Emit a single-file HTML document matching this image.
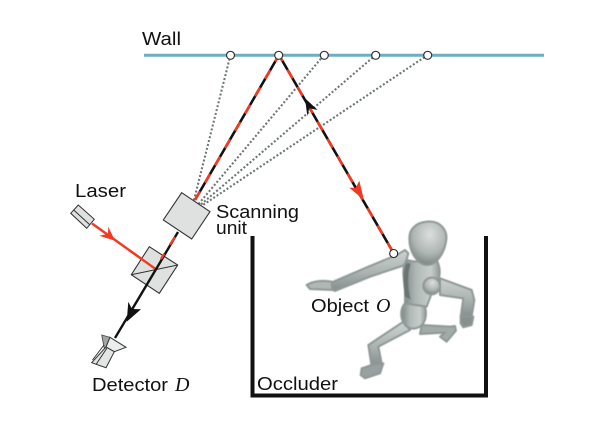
<!DOCTYPE html>
<html><head><meta charset="utf-8"><style>
html,body{margin:0;padding:0;background:#fff}
svg{display:block}
text{font-family:"Liberation Sans",sans-serif;fill:#111;font-size:18.500px}
.i{font-family:"Liberation Serif",serif;font-style:italic;font-size:20px}
</style></head><body>
<svg width="600" height="423" viewBox="0 0 600 423" xmlns="http://www.w3.org/2000/svg">
<defs>
<radialGradient id="h" cx=".55" cy=".3" r=".8"><stop offset="0" stop-color="#dcdfde"/><stop offset=".55" stop-color="#aeb5b3"/><stop offset="1" stop-color="#6a7371"/></radialGradient>
<linearGradient id="t" x1="0" y1="0" x2="1" y2="0"><stop offset="0" stop-color="#7b8583"/><stop offset=".35" stop-color="#b0b8b6"/><stop offset=".75" stop-color="#c8cecc"/><stop offset="1" stop-color="#929b99"/></linearGradient>
<linearGradient id="a" x1="0" y1="0" x2="0" y2="1"><stop offset="0" stop-color="#ced3d2"/><stop offset=".55" stop-color="#abb3b1"/><stop offset="1" stop-color="#858e8c"/></linearGradient>
<filter id="b" x="-5%" y="-5%" width="110%" height="110%"><feGaussianBlur stdDeviation="1.500"/></filter>
</defs>

<!-- wall -->
<line x1="144" y1="55.3" x2="544" y2="55.3" stroke="#6fadc4" stroke-width="3"/>

<!-- dotted -->
<g stroke="#6f7776" stroke-width="2.1" stroke-dasharray="2 2" fill="none">
<line x1="192" y1="208" x2="230.5" y2="55"/>
<line x1="196" y1="207" x2="324" y2="55"/>
<line x1="198" y1="207" x2="375.7" y2="55"/>
<line x1="200" y1="207" x2="427.7" y2="55"/>
</g>

<!-- occluder -->
<path d="M252.500 236V395.500H486V236" fill="none" stroke="#111" stroke-width="4"/>

<!-- laser -->
<polygon points="78.3,205 94.3,219.3 86.7,228.3 70.7,213.3" fill="#dfe1e0" stroke="#333" stroke-width="1"/>
<line x1="73.7" y1="210" x2="89.5" y2="224.5" stroke="#333" stroke-width="1"/>
<line x1="92" y1="223.5" x2="156" y2="269.3" stroke="#f23a22" stroke-width="2.4"/>
<polygon points="115,240.700 99.300,235.700 108,234 108.300,226.700" fill="#f23a22"/>

<!-- scanning unit -->
<polygon points="181.7,192.7 210,211.7 191.7,239 163.3,220" fill="#dfe1e0" stroke="#333" stroke-width="1.1"/>

<!-- beam splitter -->
<polygon points="149.3,246.7 177.7,265 159.3,293.3 131.3,274.7" fill="#dfe1e0" stroke="#333" stroke-width="1.1"/>
<line x1="131.3" y1="274.7" x2="177.7" y2="265" stroke="#333" stroke-width="1"/>
<line x1="129" y1="250" x2="156" y2="269.3" stroke="#f23a22" stroke-width="2.4"/>

<!-- lower black beam -->
<line x1="156" y1="269.3" x2="115" y2="338" stroke="#111" stroke-width="2.4"/>
<polygon points="126.700,321.700 128.300,301.700 132,309 141,309.300" fill="#111"/>
<!-- scan-to-beamsplitter -->
<line x1="156" y1="269.3" x2="178" y2="232" stroke="#111" stroke-width="2.4"/>
<line x1="161" y1="259" x2="178" y2="232" stroke="#f23a22" stroke-width="2.4" stroke-dasharray="9 11" stroke-dashoffset="3"/>

<!-- detector -->
<polygon points="101.7,335 110,337.300 113,353 105,352" fill="#a0a5a4" stroke="#444" stroke-width=".8"/>
<polygon points="110,337.300 126,347.300 114.300,351.700 106,347" fill="#eceeed" stroke="#333" stroke-width="1"/>
<polygon points="106,347 114.300,351.700 106,367.700 91.700,362.700" fill="#e3e5e4" stroke="#333" stroke-width="1"/>
<line x1="104" y1="345" x2="92.500" y2="360" stroke="#333" stroke-width="1"/>
<line x1="107" y1="348" x2="96" y2="364.500" stroke="#333" stroke-width="1"/>

<!-- main beams -->
<line x1="195" y1="200" x2="279" y2="55" stroke="#111" stroke-width="2.6"/>
<line x1="195" y1="200" x2="279" y2="55" stroke="#f23a22" stroke-width="2.6" stroke-dasharray="10 10"/>
<line x1="279" y1="55" x2="393.500" y2="253" stroke="#111" stroke-width="2.6"/>
<line x1="279" y1="55" x2="393.500" y2="253" stroke="#f23a22" stroke-width="2.6" stroke-dasharray="10 10" stroke-dashoffset="3"/>
<polygon points="305,98.300 317.700,110 309.300,108.300 307.300,116" fill="#111"/>
<polygon points="364,200 349.300,187.700 355.700,187.700 359.300,180.700" fill="#f23a22"/>

<!-- figure, drawn in 3x coordinates -->
<g transform="translate(290 210) scale(.33333)" filter="url(#b)" stroke="#8f9896" stroke-width="6" stroke-linejoin="round">
<path d="M395 345L480 350L495 348L498 362L470 395L450 380L465 368L390 372Z" fill="#a3aba9"/>
<path d="M340 335L360 360L265 410L275 460L245 470L235 405Z" fill="url(#a)"/>
<path d="M215 475L245 465L280 460L270 490L225 505L212 495Z" fill="#98a19f"/>
<path d="M50 225C70 212 100 210 125 215L130 240L60 237Z" fill="#b0b7b5"/>
<path d="M345 120L355 130L345 165L240 200L135 243C125 240 122 225 130 215L235 170L320 135Z" fill="url(#a)"/>
<path d="M345 280C335 290 325 320 345 345C365 365 395 355 405 330C412 300 405 290 400 285Z" fill="url(#t)"/>
<path d="M350 150L375 155L440 150C450 170 452 190 445 210L425 250L410 290L345 280L345 230C340 200 335 170 350 150Z" fill="url(#t)"/>
<path d="M350 160C335 190 340 230 345 260L362 268C352 230 352 190 362 160Z" fill="#6a7472" stroke="none"/>
<path d="M450 205L545 240L553 270L545 320L512 320L520 265L450 255Z" fill="url(#a)"/>
<path d="M512 320L550 320L545 345L520 352L512 340Z" fill="#87908e"/>
<circle cx="425" cy="228" r="25" fill="url(#h)"/>
<path d="M410 35C450 30 475 60 468 95C462 130 440 165 412 165C385 165 358 130 358 85C358 55 380 38 410 35Z" fill="url(#h)"/>
</g>
<circle cx="393.7" cy="253.5" r="4" fill="#fff" stroke="#222" stroke-width="1.1"/>

<!-- wall nodes -->
<g fill="#fff" stroke="#333" stroke-width="1.2">
<circle cx="230.5" cy="55.3" r="4"/>
<circle cx="278.7" cy="55.3" r="4"/>
<circle cx="324.3" cy="55.3" r="4"/>
<circle cx="375.7" cy="55.3" r="4"/>
<circle cx="427.7" cy="55.3" r="4"/>
</g>

<!-- labels -->
<text x="142" y="45" textLength="39" lengthAdjust="spacingAndGlyphs">Wall</text>
<text x="75" y="197" textLength="51" lengthAdjust="spacingAndGlyphs">Laser</text>
<text x="216" y="218" textLength="83" lengthAdjust="spacingAndGlyphs">Scanning</text>
<text x="216" y="234" textLength="31" lengthAdjust="spacingAndGlyphs">unit</text>
<text x="92" y="391" textLength="76" lengthAdjust="spacingAndGlyphs">Detector</text>
<text class="i" x="175" y="391">D</text>
<text x="311" y="312" textLength="58" lengthAdjust="spacingAndGlyphs">Object</text>
<text class="i" x="376" y="312" fill="#123a66">O</text>
<text x="257" y="390" textLength="81" lengthAdjust="spacingAndGlyphs">Occluder</text>
</svg>
</body></html>
